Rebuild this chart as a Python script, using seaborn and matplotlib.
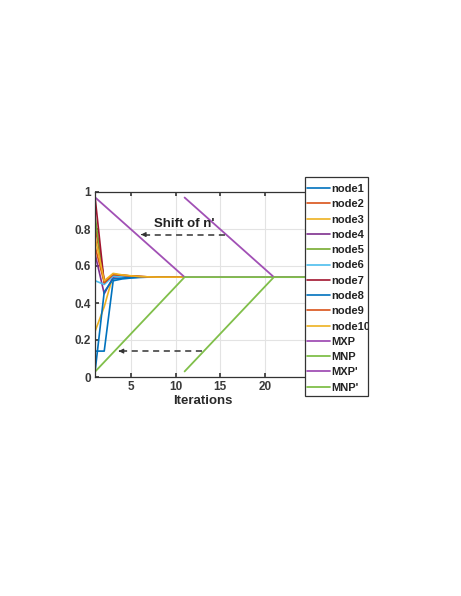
import pandas as pd
import seaborn as sns
import matplotlib.pyplot as plt
from matplotlib.patches import Rectangle

# Iteration axis and series values
iters = list(range(1, 12))
node1 = [0.14, 0.14, 0.52, 0.53, 0.535, 0.538, 0.54, 0.54, 0.54, 0.54, 0.54]
node2 = [0.81, 0.52, 0.55, 0.548, 0.545, 0.542, 0.54, 0.54, 0.54, 0.54, 0.54]
node3 = [0.25, 0.38, 0.55, 0.55, 0.546, 0.543, 0.541, 0.54, 0.54, 0.54, 0.54]
node4 = [0.66, 0.45, 0.54, 0.545, 0.543, 0.541, 0.54, 0.54, 0.54, 0.54, 0.54]
node5 = [0.86, 0.51, 0.55, 0.547, 0.544, 0.542, 0.54, 0.54, 0.54, 0.54, 0.54]
node6 = [0.52, 0.50, 0.545, 0.544, 0.542, 0.541, 0.54, 0.54, 0.54, 0.54, 0.54]
node7 = [0.96, 0.51, 0.555, 0.55, 0.546, 0.543, 0.541, 0.54, 0.54, 0.54, 0.54]
node8 = [0.04, 0.46, 0.53, 0.535, 0.538, 0.54, 0.54, 0.54, 0.54, 0.54, 0.54]
node9 = [0.70, 0.51, 0.555, 0.55, 0.546, 0.543, 0.541, 0.54, 0.54, 0.54, 0.54]
node10 = [0.75, 0.52, 0.56, 0.552, 0.547, 0.543, 0.541, 0.54, 0.54, 0.54, 0.54]

mxp_x = [1, 11, 25]
mxp_y = [0.97, 0.54, 0.54]
mnp_x = [1, 11, 25]
mnp_y = [0.03, 0.54, 0.54]
mxp2_x = [11, 21, 25]
mxp2_y = [0.97, 0.54, 0.54]
mnp2_x = [11, 21, 25]
mnp2_y = [0.03, 0.54, 0.54]

node_names = ['node1', 'node2', 'node3', 'node4', 'node5',
              'node6', 'node7', 'node8', 'node9', 'node10']
node_values = [node1, node2, node3, node4, node5,
               node6, node7, node8, node9, node10]

# MATLAB default line colours
node_colors = ['#0072BD', '#D95319', '#EDB120', '#7E2F8E', '#77AC30',
               '#4DBEEE', '#A2142F', '#0072BD', '#D95319', '#EDB120']
purple = '#A150B5'
green = '#80BF4A'
dark = '#333333'

sns.set_theme(style='white')
plt.rcParams['font.family'] = ['Liberation Sans', 'DejaVu Sans']

W, H = 461, 596
fig = plt.figure(figsize=(W / 100, H / 100), dpi=100)
ax = fig.add_axes([95.3 / W, 219 / H, 214.3 / W, 185 / H])

for name, vals, col in zip(node_names, node_values, node_colors):
    df = pd.DataFrame({'Iterations': iters, 'value': vals})
    sns.lineplot(data=df, x='Iterations', y='value', color=col, lw=1.2,
                 ax=ax, label=name, legend=False, sort=False)

extra = [('MXP', mxp_x, mxp_y, purple), ('MNP', mnp_x, mnp_y, green),
         ("MXP'", mxp2_x, mxp2_y, purple), ("MNP'", mnp2_x, mnp2_y, green)]
for name, xs, ys, col in extra:
    df = pd.DataFrame({'Iterations': xs, 'value': ys})
    sns.lineplot(data=df, x='Iterations', y='value', color=col, lw=1.3,
                 ax=ax, label=name, legend=False, sort=False)

# shift arrows
ax.plot([6.4, 15.7], [0.77, 0.77], color=dark, lw=1.1, dashes=(4, 3))
ax.annotate('', xy=(5.8, 0.77), xytext=(6.6, 0.77),
            arrowprops=dict(arrowstyle='-|>', color=dark, lw=0.8, mutation_scale=7))
ax.plot([3.9, 13.3], [0.14, 0.14], color=dark, lw=1.1, dashes=(4, 3))
ax.annotate('', xy=(3.3, 0.14), xytext=(4.1, 0.14),
            arrowprops=dict(arrowstyle='-|>', color=dark, lw=0.8, mutation_scale=7))
ax.text(11.0, 0.828, "Shift of n'", ha='center', va='center', fontsize=9.5,
        fontweight='bold', color='#222222')

ax.set_xlim(1, 25)
ax.set_ylim(0, 1)
ax.set_xticks([5, 10, 15, 20])
ax.set_yticks([0, 0.2, 0.4, 0.6, 0.8, 1])
ax.set_yticklabels(['0', '0.2', '0.4', '0.6', '0.8', '1'])
ax.grid(True, color='#e3e3e3', lw=0.8)
ax.set_axisbelow(True)
ax.tick_params(direction='in', length=3, labelsize=8.5, colors='#3a3a3a',
               top=True, right=True, bottom=True, left=True, pad=3)
for lab in ax.get_xticklabels() + ax.get_yticklabels():
    lab.set_fontweight('bold')
for s in ax.spines.values():
    s.set_color(dark)
    s.set_linewidth(0.9)
ax.set_xlabel('Iterations', fontsize=9.5, fontweight='bold', labelpad=1, color='#2a2a2a')
ax.set_ylabel('')

# legend box drawn by hand, text clipped to it like the original
box = Rectangle((305 / W, 1 - 396 / H), 63 / W, 219 / H, transform=fig.transFigure,
                facecolor='white', edgecolor=dark, lw=0.9, zorder=5)
fig.patches.append(box)

h, l = ax.get_legend_handles_labels()
leg = fig.legend(h, l, loc='upper left', bbox_to_anchor=(307 / W, 1 - 184 / H),
                 bbox_transform=fig.transFigure, fontsize=8, frameon=False,
                 handlelength=2.1, handletextpad=0.12, labelspacing=0.475,
                 borderpad=0, borderaxespad=0)
leg.set_zorder(6)
for t in leg.get_texts():
    t.set_fontweight('bold')
    t.set_color('#222222')
    t.set_clip_path(box)

fig.savefig('out.png', dpi=100)
